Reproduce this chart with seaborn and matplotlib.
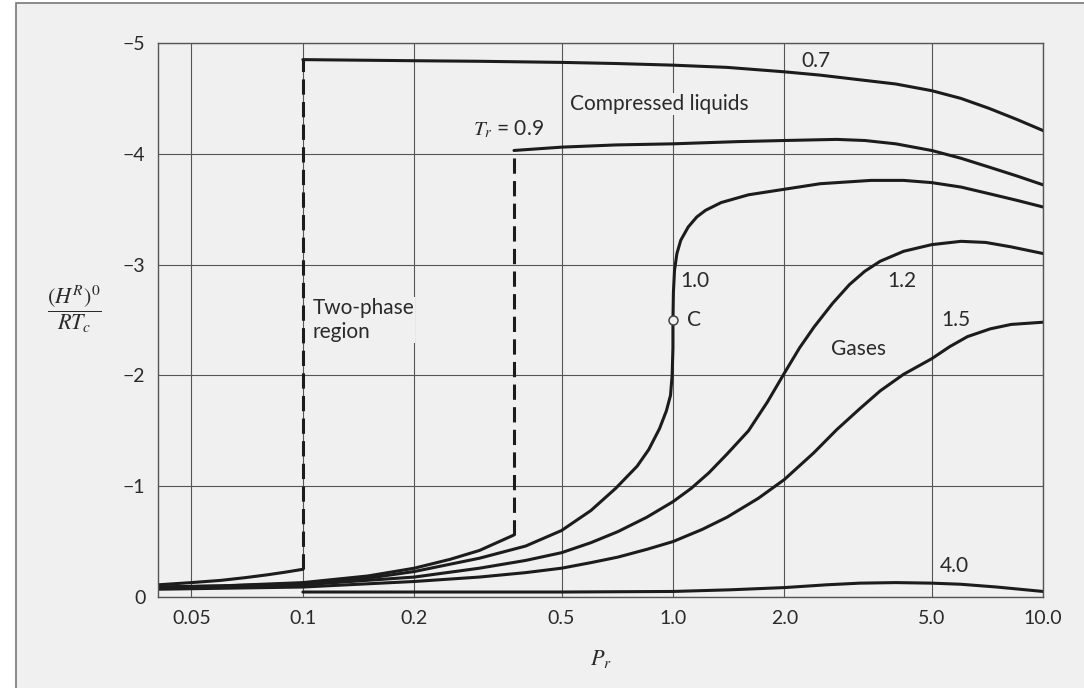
import numpy as np
import pandas as pd
import matplotlib
matplotlib.use("Agg")
import matplotlib.pyplot as plt
from matplotlib.patches import Rectangle
from matplotlib.ticker import NullLocator
import seaborn as sns

# Residual enthalpy (H^R)^0/RTc vs reduced pressure
# Tr = 0.7: vapour branch, then liquid branch
pr_07_vap = [0.0406, 0.05, 0.06, 0.07, 0.08, 0.09, 0.1]
h_07_vap = [-0.11, -0.13, -0.15, -0.175, -0.20, -0.225, -0.25]
pr_07_liq = [0.1, 0.2, 0.3, 0.5, 0.7, 1.0, 1.4, 2.0, 2.5, 3.16, 4.0, 5.0, 6.0, 7.15, 8.5, 10.0]
h_07_liq = [-4.85, -4.84, -4.835, -4.825, -4.815, -4.80, -4.78, -4.74, -4.71, -4.67,
            -4.63, -4.57, -4.50, -4.41, -4.31, -4.21]

# Tr = 0.9
pr_09_vap = [0.0406, 0.06, 0.1, 0.15, 0.2, 0.25, 0.3, 0.372]
h_09_vap = [-0.09, -0.10, -0.13, -0.19, -0.26, -0.34, -0.42, -0.56]
pr_09_liq = [0.372, 0.5, 0.7, 1.0, 1.5, 2.0, 2.77, 3.3, 4.0, 5.0, 6.0, 7.15, 8.5, 10.0]
h_09_liq = [-4.03, -4.06, -4.08, -4.09, -4.11, -4.12, -4.13, -4.12, -4.09, -4.03,
            -3.96, -3.88, -3.80, -3.72]

# Tr = 1.0 (critical isotherm)
pr_10 = [0.0406, 0.06, 0.1, 0.15, 0.2, 0.3, 0.4, 0.5, 0.6, 0.7, 0.8, 0.86, 0.92, 0.96,
         0.985, 0.995, 1.0, 1.0, 1.003, 1.01, 1.025, 1.05, 1.1, 1.16, 1.225, 1.35, 1.6,
         2.0, 2.5, 3.43, 4.2, 5.0, 6.0, 7.15, 8.5, 10.0]
h_10 = [-0.09, -0.10, -0.12, -0.17, -0.23, -0.35, -0.46, -0.60, -0.78, -0.98, -1.18,
        -1.33, -1.52, -1.68, -1.82, -2.0, -2.25, -2.5, -2.75, -2.95, -3.10, -3.22, -3.34,
        -3.43, -3.49, -3.56, -3.63, -3.68, -3.73, -3.76, -3.76, -3.74, -3.70, -3.64,
        -3.58, -3.52]

# Tr = 1.2
pr_12 = [0.0406, 0.1, 0.2, 0.3, 0.4, 0.5, 0.6, 0.71, 0.85, 1.0, 1.12, 1.25, 1.4, 1.6,
         1.8, 2.0, 2.2, 2.41, 2.7, 3.0, 3.3, 3.63, 4.2, 5.0, 6.0, 7.0, 8.2, 10.0]
h_12 = [-0.08, -0.11, -0.18, -0.26, -0.33, -0.40, -0.49, -0.59, -0.72, -0.86, -0.98,
        -1.12, -1.29, -1.50, -1.76, -2.02, -2.25, -2.44, -2.65, -2.82, -2.94, -3.03,
        -3.12, -3.18, -3.21, -3.20, -3.16, -3.10]

# Tr = 1.5
pr_15 = [0.0406, 0.1, 0.2, 0.3, 0.4, 0.5, 0.6, 0.71, 0.85, 1.0, 1.2, 1.4, 1.7, 2.0,
         2.4, 2.77, 3.2, 3.63, 4.2, 5.0, 5.6, 6.25, 7.2, 8.2, 10.0]
h_15 = [-0.07, -0.09, -0.14, -0.18, -0.22, -0.26, -0.31, -0.36, -0.43, -0.50, -0.61,
        -0.72, -0.89, -1.06, -1.30, -1.51, -1.70, -1.86, -2.01, -2.15, -2.26, -2.35,
        -2.42, -2.46, -2.48]

# Tr = 4.0
pr_40 = [0.1, 0.2, 0.5, 1.0, 1.43, 2.0, 2.6, 3.2, 4.0, 5.0, 6.0, 7.5, 10.0]
h_40 = [-0.045, -0.045, -0.045, -0.05, -0.065, -0.085, -0.11, -0.125, -0.13, -0.125,
        -0.115, -0.09, -0.05]

# critical point C
c_pr = [1.0]
c_h = [-2.5]

x_ticks = [0.05, 0.1, 0.2, 0.5, 1.0, 2.0, 5.0, 10.0]
x_labels = ["0.05", "0.1", "0.2", "0.5", "1.0", "2.0", "5.0", "10.0"]
y_ticks = [0, -1, -2, -3, -4, -5]
y_labels = ["0", "\u22121", "\u22122", "\u22123", "\u22124", "\u22125"]

bg = "#f0f0f0"
ink = "#1c1c1c"

sns.set_style("whitegrid", rc={
    "axes.facecolor": bg,
    "axes.edgecolor": "#555555",
    "grid.color": "#555555",
    "grid.linewidth": 0.8,
})
plt.rcParams["font.family"] = ["Lato", "DejaVu Sans"]
plt.rcParams["mathtext.fontset"] = "stix"

fig = plt.figure(figsize=(10.84, 6.88), dpi=100, facecolor="white")
fig.patches.append(Rectangle((16 / 1084, -0.05), 1.1, 1 - 3 / 688 + 0.05,
                             transform=fig.transFigure, facecolor=bg,
                             edgecolor="#777777", linewidth=1.2, zorder=-1))
ax = fig.add_axes([158 / 1084, 1 - 597 / 688, 885 / 1084, 554 / 688])

solid = dict(color=ink, linewidth=2.2, sort=False, estimator=None, legend=False)

# solid isotherms
sns.lineplot(x=pr_07_vap, y=h_07_vap, ax=ax, **solid)
sns.lineplot(x=pr_07_liq, y=h_07_liq, ax=ax, **solid)
sns.lineplot(x=pr_09_vap, y=h_09_vap, ax=ax, **solid)
sns.lineplot(x=pr_09_liq, y=h_09_liq, ax=ax, **solid)
sns.lineplot(x=pr_10, y=h_10, ax=ax, **solid)
sns.lineplot(x=pr_12, y=h_12, ax=ax, **solid)
sns.lineplot(x=pr_15, y=h_15, ax=ax, **solid)
sns.lineplot(x=pr_40, y=h_40, ax=ax, **solid)

# dashed jumps across the two-phase region
dashed = dict(solid, linestyle=(0, (5, 2.4)))
sns.lineplot(x=[pr_07_vap[-1], pr_07_liq[0]], y=[h_07_vap[-1], h_07_liq[0]], ax=ax, **dashed)
sns.lineplot(x=[pr_09_vap[-1], pr_09_liq[0]], y=[h_09_vap[-1], h_09_liq[0]], ax=ax, **dashed)

sns.scatterplot(x=c_pr, y=c_h, ax=ax, s=42, color=bg, edgecolor="#444444",
                linewidth=1.1, zorder=5, legend=False)

ax.set_xscale("log")
ax.set_xlim(0.0406, 10)
ax.set_ylim(0, -5)
ax.set_xticks(x_ticks)
ax.set_xticklabels(x_labels)
ax.xaxis.set_minor_locator(NullLocator())
ax.set_yticks(y_ticks)
ax.set_yticklabels(y_labels)
ax.tick_params(length=0, labelsize=14, labelcolor="#2a2a2a", pad=9)
for s in ax.spines.values():
    s.set_linewidth(1.0)
ax.grid(True, which="major", color="#555555", linewidth=0.8)

ax.set_xlabel(r"$P_r$", fontsize=16, color="#2a2a2a")
ax.xaxis.set_label_coords(0.5, -0.092)
ax.set_ylabel(r"$\dfrac{(H^R)^0}{RT_c}$", fontsize=16, rotation=0,
              color="#2a2a2a", va="center", ha="center")
ax.yaxis.set_label_coords(-0.094, 0.52)

txt = dict(fontsize=15, color="#2a2a2a", va="center", ha="left")
box = dict(facecolor=bg, edgecolor="none", pad=0.5)
ax.text(2.22, -4.84, "0.7", **txt)
ax.text(0.527, -4.45, "Compressed liquids", bbox=box, **txt)
ax.text(0.288, -4.22, r"$T_r$ = 0.9", **txt)
ax.text(1.044, -2.85, "1.0", **txt)
ax.text(1.09, -2.50, "C", **txt)
ax.text(3.79, -2.85, "1.2", **txt)
ax.text(5.30, -2.50, "1.5", **txt)
ax.text(2.67, -2.24, "Gases", **txt)
ax.text(5.27, -0.28, "4.0", **txt)
ax.text(0.1064, -2.50, "Two-phase\nregion", linespacing=1.3, bbox=box, **txt)

fig.savefig("out.png", dpi=100, facecolor=fig.get_facecolor())
